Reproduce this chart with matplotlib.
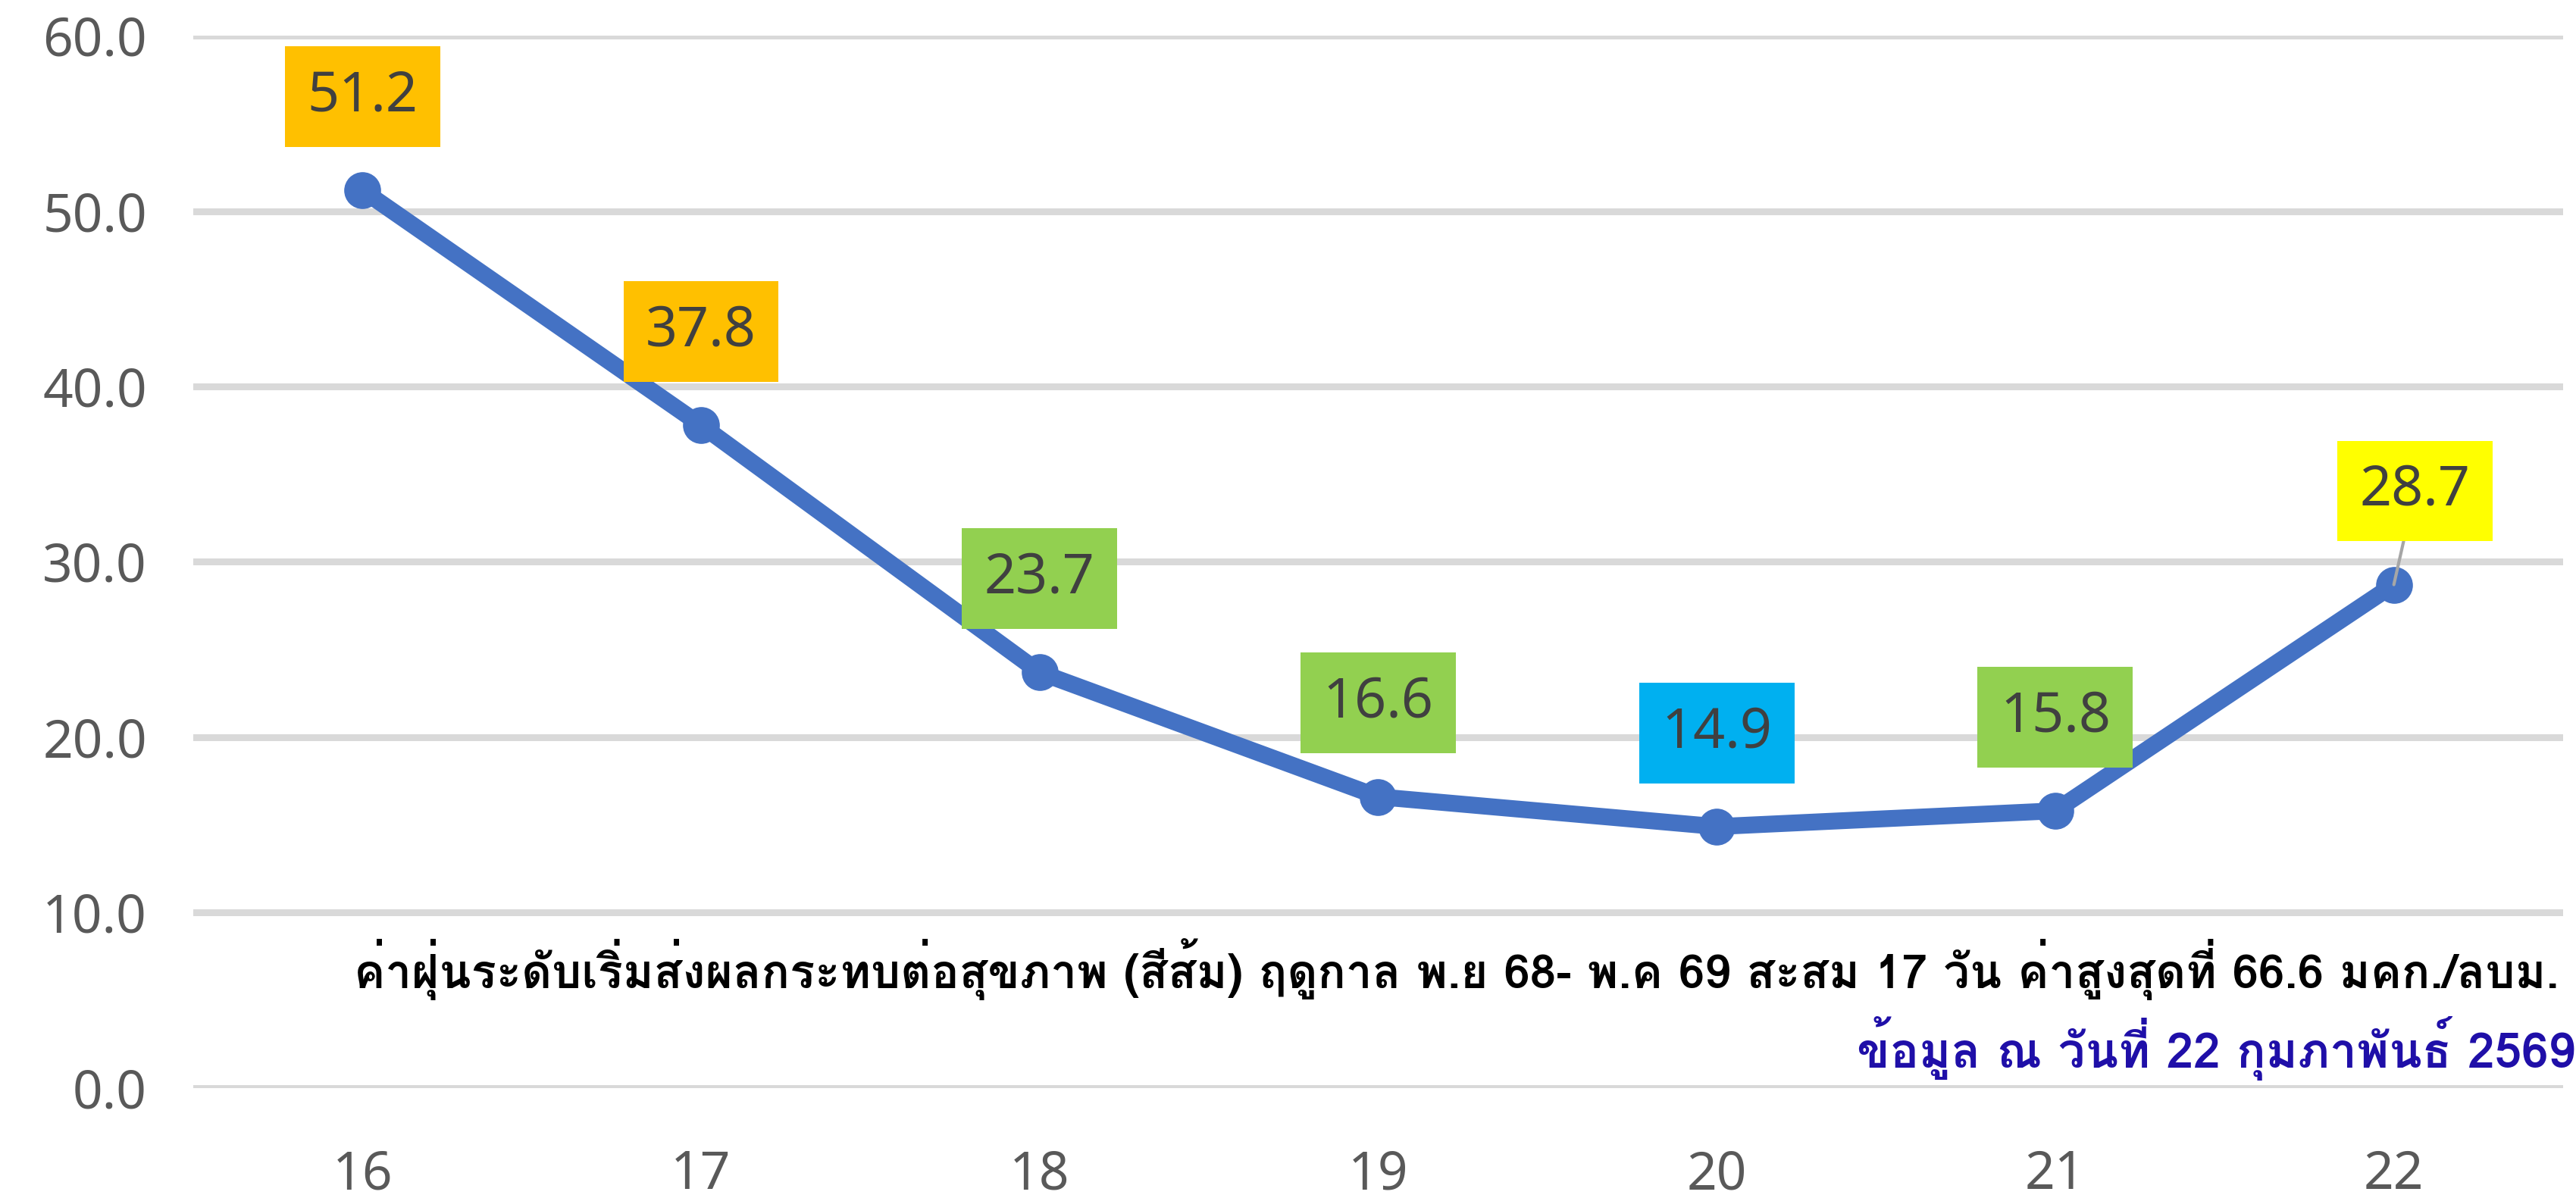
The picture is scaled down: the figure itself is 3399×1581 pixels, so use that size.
import matplotlib
matplotlib.use("Agg")
import matplotlib.pyplot as plt
from matplotlib import font_manager, ft2font

# --- data ---
days = [16, 17, 18, 19, 20, 21, 22]
pm25 = [51.2, 37.8, 23.7, 16.6, 14.9, 15.8, 28.7]
box_colors = ["#FFC000", "#FFC000", "#92D050", "#92D050", "#00B0F0", "#92D050", "#FFFF00"]
y_ticks = [0, 10, 20, 30, 40, 50, 60]

note_text = ("ค่าฝุ่นระดับเริ่มส่งผลกระทบต่อสุขภาพ (สีส้ม) ฤดูกาล พ.ย 68- พ.ค 69 "
             "สะสม 17 วัน ค่าสูงสุดที่ 66.6 มคก./ลบม.")
date_text = "ข้อมูล ณ วันที่ 22 กุมภาพันธ์ 2569"

LINE_COLOR = "#4472C4"
GRID_COLOR = "#D9D9D9"
TICK_COLOR = "#595959"
LABEL_COLOR = "#404040"


def thai_family():
    # first installed family that has Thai glyphs
    for f in font_manager.fontManager.ttflist:
        try:
            cmap = ft2font.FT2Font(f.fname).get_charmap()
        except Exception:
            continue
        if 0x0E04 in cmap:
            return f.name
    return "DejaVu Sans"


THAI = thai_family()
plt.rcParams["font.family"] = ["Noto Sans", "DejaVu Sans"]

fig = plt.figure(figsize=(33.99, 15.81), dpi=100)
ax = fig.add_axes([0.075, 0.092, 0.92, 0.878])

ax.plot(days, pm25, color=LINE_COLOR, lw=16, marker="o", ms=34,
        solid_capstyle="round", zorder=3)

for i, (d, v) in enumerate(zip(days, pm25)):
    dx = 20 if i == len(days) - 1 else 0
    arrow = None
    if i == len(days) - 1:
        arrow = dict(arrowstyle="-", color="#A6A6A6", lw=3, shrinkA=0, shrinkB=0)
    ax.annotate(f"{v:.1f}", xy=(d, v), xytext=(dx, 89), textcoords="offset points",
                ha="center", va="center", fontsize=53, color=LABEL_COLOR,
                bbox=dict(boxstyle="square,pad=0.4", fc=box_colors[i], ec="none"),
                arrowprops=arrow, zorder=4)

ax.set_xlim(15.5, 22.5)
ax.set_ylim(0, 60)
ax.set_xticks(days)
ax.set_yticks(y_ticks)
ax.set_yticklabels([f"{t:.1f}" for t in y_ticks])
ax.tick_params(axis="both", length=0, labelsize=50, labelcolor=TICK_COLOR)
ax.tick_params(axis="x", pad=58)
ax.tick_params(axis="y", pad=44)
ax.grid(axis="y", color=GRID_COLOR, lw=6.5, zorder=0)
ax.set_axisbelow(True)
for s in ax.spines.values():
    s.set_visible(False)

fig.text(0.9935, 0.191, note_text, ha="right", va="center", fontsize=44.5,
         fontweight="bold", color="black", family=[THAI, "DejaVu Sans"])
fig.text(0.7207, 0.125, date_text, ha="left", va="center", fontsize=46,
         fontweight="bold", color="#1F0FA8", family=[THAI, "DejaVu Sans"])

fig.savefig("out.png", dpi=100)
